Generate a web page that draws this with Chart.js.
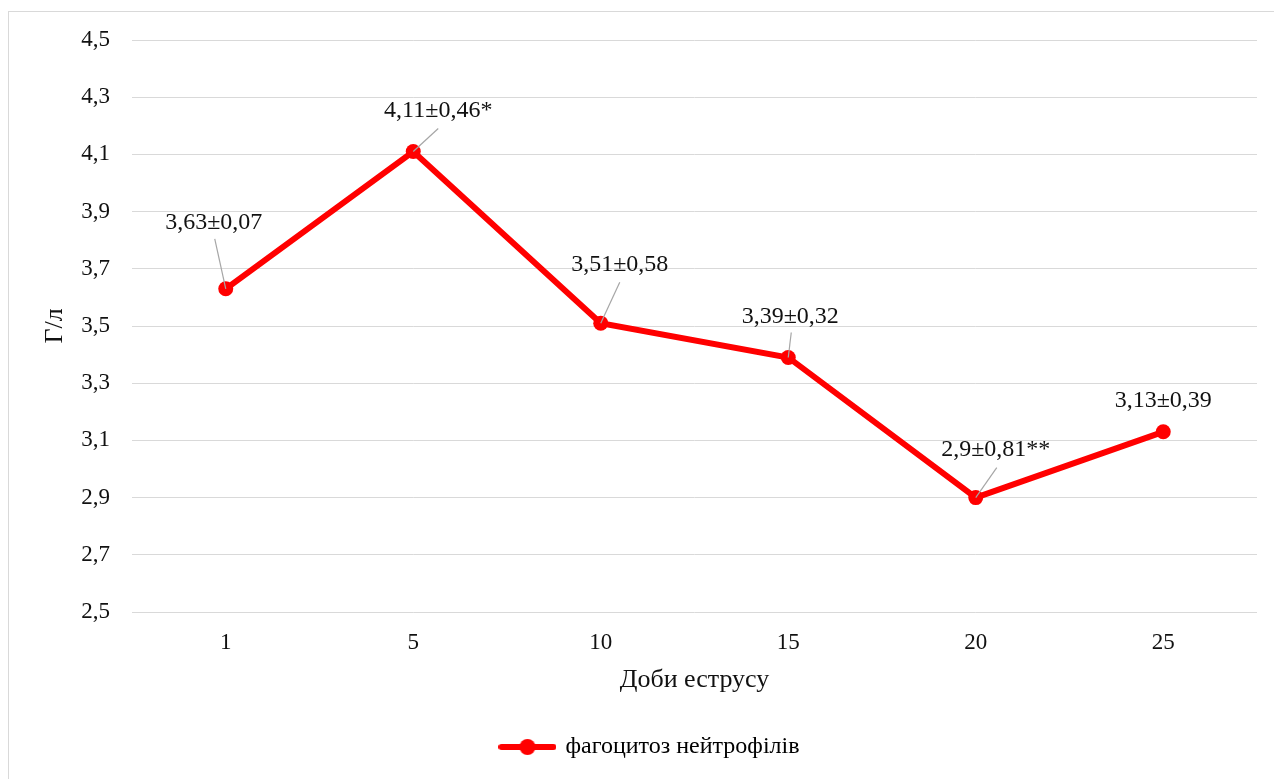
<!DOCTYPE html>
<html>
<head>
<meta charset="utf-8">
<script src="https://cdn.jsdelivr.net/npm/chart.js@4.4.1/dist/chart.umd.min.js"></script>
<style>
    html, body { margin: 0; padding: 0; background: #fff; }
    #wrap { width: 1274px; height: 779px; position: relative; }
</style>
</head>
<body>
<div id="wrap"><canvas id="phagoChart"></canvas></div>
<script>
// ===== DATA =====
const days = ['1', '5', '10', '15', '20', '25'];
const phagoValues = [3.63, 4.11, 3.51, 3.39, 2.9, 3.13];
const phagoLabels = ['3,63±0,07', '4,11±0,46*', '3,51±0,58', '3,39±0,32', '2,9±0,81**', '3,13±0,39'];
const yTicks = [2.5, 2.7, 2.9, 3.1, 3.3, 3.5, 3.7, 3.9, 4.1, 4.3, 4.5];

// label placement relative to each point: text centre and leader line end (null = no leader)
const labelPlacement = [
    { dx: -12, dy: -66, lx: -11, ly: -50 },
    { dx: 25, dy: -41, lx: 25, ly: -23 },
    { dx: 19, dy: -58, lx: 19, ly: -41 },
    { dx: 2, dy: -41, lx: 3, ly: -25 },
    { dx: 20, dy: -48, lx: 21, ly: -30 },
    { dx: 0, dy: -31, lx: null, ly: null }
];

const FONT = '"Liberation Serif", "Times New Roman", serif';
const RED = '#ff0000';
const TEXT = '#111';

// legend marker: line with a dot in the middle
const legendMarker = document.createElement('canvas');
legendMarker.width = 58;
legendMarker.height = 18;
(function() {
    const c = legendMarker.getContext('2d');
    c.strokeStyle = RED;
    c.lineWidth = 6;
    c.lineCap = 'round';
    c.beginPath();
    c.moveTo(3, 9);
    c.lineTo(55, 9);
    c.stroke();
    c.fillStyle = RED;
    c.beginPath();
    c.arc(29, 9, 8, 0, Math.PI * 2);
    c.fill();
})();

// ===== PLUGINS =====
const frameBorder = {
    id: 'frameBorder',
    beforeDraw(chart) {
        const ctx = chart.ctx;
        ctx.save();
        ctx.fillStyle = '#fff';
        ctx.fillRect(0, 0, chart.width, chart.height);
        ctx.strokeStyle = '#d9d9d9';
        ctx.lineWidth = 1;
        ctx.strokeRect(8.5, 11.5, chart.width + 10, chart.height + 10);
        ctx.restore();
    }
};

// legend sits a little right of the canvas centre in the original
const legendShift = {
    id: 'legendShift',
    afterLayout(chart) {
        if (chart.legend) {
            chart.legend.left += 22;
            chart.legend.right += 22;
        }
    }
};

const pointLabels = {
    id: 'pointLabels',
    afterDatasetsDraw(chart) {
        const ctx = chart.ctx;
        const meta = chart.getDatasetMeta(0);
        ctx.save();
        meta.data.forEach((pt, i) => {
            const p = labelPlacement[i];
            if (p.lx !== null) {
                ctx.strokeStyle = '#a6a6a6';
                ctx.lineWidth = 1.2;
                ctx.beginPath();
                ctx.moveTo(pt.x, pt.y);
                ctx.lineTo(pt.x + p.lx, pt.y + p.ly);
                ctx.stroke();
            }
            ctx.fillStyle = TEXT;
            ctx.font = '24px ' + FONT;
            ctx.textAlign = 'center';
            ctx.textBaseline = 'middle';
            ctx.fillText(phagoLabels[i], pt.x + p.dx, pt.y + p.dy);
        });
        ctx.restore();
    }
};

// ===== CHART =====
new Chart(document.getElementById('phagoChart'), {
    type: 'line',
    data: {
        labels: days,
        datasets: [{
            label: 'фагоцитоз нейтрофілів',
            data: phagoValues,
            borderColor: RED,
            backgroundColor: RED,
            borderWidth: 6,
            tension: 0,
            pointRadius: 7.5,
            pointHoverRadius: 7.5,
            pointBackgroundColor: RED,
            pointBorderColor: RED,
            pointBorderWidth: 0
        }]
    },
    options: {
        responsive: true,
        maintainAspectRatio: false,
        animation: false,
        layout: {
            padding: { top: 40, left: 0, right: 17, bottom: 10 }
        },
        plugins: {
            legend: {
                position: 'bottom',
                labels: {
                    usePointStyle: true,
                    pointStyleWidth: 52,
                    boxHeight: 18,
                    padding: 10,
                    color: TEXT,
                    font: { family: FONT, size: 24 },
                    generateLabels: function(chart) {
                        return [{
                            text: chart.data.datasets[0].label,
                            pointStyle: legendMarker,
                            fillStyle: RED,
                            strokeStyle: RED,
                            lineWidth: 0,
                            datasetIndex: 0
                        }];
                    }
                }
            },
            tooltip: { enabled: false }
        },
        scales: {
            x: {
                offset: true,
                grid: { display: false },
                border: { display: false },
                ticks: {
                    color: TEXT,
                    padding: 9,
                    font: { family: FONT, size: 23 }
                },
                title: {
                    display: true,
                    text: 'Доби еструсу',
                    color: TEXT,
                    padding: { top: 29, bottom: 29 },
                    font: { family: FONT, size: 26 }
                },
                afterFit: function(scale) { scale.height = 113; }
            },
            y: {
                min: 2.5,
                max: 4.5,
                afterBuildTicks: function(scale) {
                    scale.ticks = yTicks.map(v => ({ value: v }));
                },
                grid: {
                    color: '#d9d9d9',
                    lineWidth: 1,
                    drawTicks: false
                },
                border: { display: false },
                ticks: {
                    color: TEXT,
                    padding: 22,
                    font: { family: FONT, size: 23 },
                    callback: function(value) {
                        return value.toFixed(1).replace('.', ',');
                    }
                },
                title: {
                    display: true,
                    text: 'Г/л',
                    color: TEXT,
                    padding: { top: 40, bottom: 40 },
                    font: { family: FONT, size: 26 }
                },
                afterFit: function(scale) { scale.width = 132; }
            }
        }
    },
    plugins: [frameBorder, legendShift, pointLabels]
});
</script>
</body>
</html>
